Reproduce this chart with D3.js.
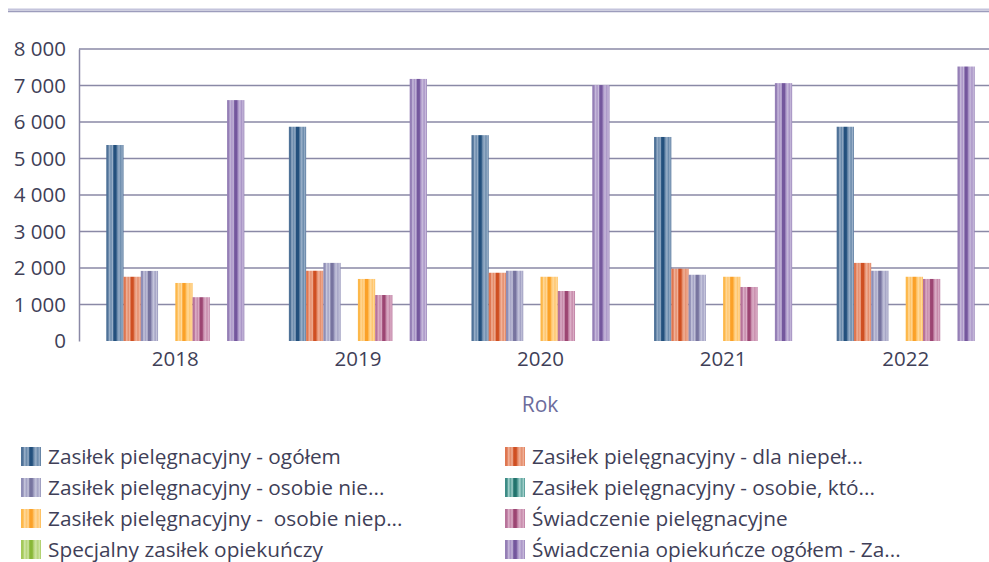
<!DOCTYPE html>
<html>
<head>
<meta charset="utf-8">
<script src="https://cdn.jsdelivr.net/npm/d3@7"></script>
<style>
  html, body { margin: 0; padding: 0; background: #ffffff; }
  svg { display: block; }
  text { font-family: "Open Sans", "Noto Sans", sans-serif; }
</style>
</head>
<body>
<svg id="chart" width="989" height="562"></svg>
<script>
// Years on the category axis
const years = ["2018", "2019", "2020", "2021", "2022"];

// Series values per year (number of recipients)
const zasilekOgolem      = [5370, 5870, 5640, 5590, 5870];
const zasilekDlaNiepel   = [1760, 1925, 1870, 1980, 2140];
const zasilekOsobieNie   = [1920, 2140, 1925, 1815, 1925];
const zasilekOsobieKto   = [0, 0, 0, 0, 0];
const zasilekOsobieNiep  = [1590, 1700, 1760, 1760, 1760];
const swiadczeniePiel    = [1200, 1260, 1370, 1480, 1700];
const specjalnyZasilek   = [0, 0, 0, 0, 0];
const swiadczeniaOpiek   = [6600, 7180, 7010, 7065, 7520];

// Series names as shown in the legend
const seriesNames = [
  "Zasiłek pielęgnacyjny - ogółem",
  "Zasiłek pielęgnacyjny - dla niepeł...",
  "Zasiłek pielęgnacyjny - osobie nie...",
  "Zasiłek pielęgnacyjny - osobie, któ...",
  "Zasiłek pielęgnacyjny -  osobie niep...",
  "Świadczenie pielęgnacyjne",
  "Specjalny zasiłek opiekuńczy",
  "Świadczenia opiekuńcze ogółem - Za..."
];
const seriesValues = [
  zasilekOgolem, zasilekDlaNiepel, zasilekOsobieNie, zasilekOsobieKto,
  zasilekOsobieNiep, swiadczeniePiel, specjalnyZasilek, swiadczeniaOpiek
];

// Y axis ticks
const yTicks = [0, 1000, 2000, 3000, 4000, 5000, 6000, 7000, 8000];

// Striped fills: [edge, light, mid, dark]
const palette = [
  ["#4f7298", "#9ab0c9", "#6a8aab", "#23507d"],
  ["#df7650", "#f0b29a", "#e48c6a", "#cf4f22"],
  ["#8f8eb6", "#c6c6dc", "#a3a2c4", "#77749f"],
  ["#3d8c86", "#a6d3ce", "#5fa39d", "#22736d"],
  ["#fdb84a", "#ffd99c", "#ffc56b", "#fba128"],
  ["#b8739a", "#dcb0c8", "#c68aaa", "#9c4572"],
  ["#a4c95a", "#d0e6a6", "#b6d479", "#88b737"],
  ["#957fb6", "#c7badb", "#a994c6", "#74579d"]
];

const svg = d3.select("#chart");
const defs = svg.append("defs");

palette.forEach((c, i) => {
  const g = defs.append("linearGradient")
    .attr("id", "stripe" + i)
    .attr("x1", 0).attr("x2", 1).attr("y1", 0).attr("y2", 0);
  const stops = [
    [0.00, c[0]], [0.10, c[0]], [0.18, c[1]], [0.28, c[2]],
    [0.36, c[1]], [0.44, c[3]], [0.56, c[3]], [0.64, c[2]],
    [0.74, c[1]], [0.84, c[2]], [0.92, c[1]], [1.00, c[0]]
  ];
  stops.forEach(s => g.append("stop").attr("offset", s[0]).attr("stop-color", s[1]));
});

// Decorative rule at the top
svg.append("line")
  .attr("x1", 8).attr("x2", 989).attr("y1", 9.5).attr("y2", 9.5)
  .attr("stroke", "#c4c4dc").attr("stroke-width", 2);
svg.append("line")
  .attr("x1", 8).attr("x2", 989).attr("y1", 11.5).attr("y2", 11.5)
  .attr("stroke", "#9c9cbc").attr("stroke-width", 1.5);

// Scales
const plotLeft = 79, plotRight = 989;
const y = d3.scaleLinear().domain([0, 8000]).range([341, 49]);
const x0 = d3.scaleBand().domain(years).range([84, 997]).padding(0);
const x1 = d3.scaleBand().domain(d3.range(seriesNames.length))
  .range([0, x0.bandwidth()]).paddingInner(0).paddingOuter(1.29);

const fmt = d3.formatLocale({ decimal: ",", thousands: " ", grouping: [3], currency: ["", ""] }).format(",d");

// Grid lines
svg.append("g").selectAll("line")
  .data(yTicks.filter(d => d > 0))
  .join("line")
  .attr("x1", plotLeft).attr("x2", plotRight)
  .attr("y1", d => y(d)).attr("y2", d => y(d))
  .attr("stroke", "#8a89a6").attr("stroke-width", 1.5);

// Y axis
const yAxis = svg.append("g")
  .attr("transform", `translate(${plotLeft},0)`)
  .call(d3.axisLeft(y).tickValues(yTicks).tickFormat(fmt).tickSize(0).tickPadding(13));
yAxis.select(".domain").attr("stroke", "#8a89a6").attr("stroke-width", 1.5);
yAxis.selectAll("text")
  .attr("fill", "#3f3f58").style("font-size", "20.5px");

// Bars
const groups = svg.append("g").selectAll("g")
  .data(years)
  .join("g")
  .attr("transform", d => `translate(${x0(d)},0)`);

groups.selectAll("rect")
  .data((d, yi) => seriesValues.map((vals, si) => ({ si, v: vals[yi] })))
  .join("rect")
  .attr("x", d => x1(d.si))
  .attr("width", x1.bandwidth())
  .attr("y", d => y(d.v))
  .attr("height", d => y(0) - y(d.v))
  .attr("fill", d => `url(#stripe${d.si})`);

// X axis labels
const xAxis = svg.append("g")
  .attr("transform", `translate(0,341)`)
  .call(d3.axisBottom(x0).tickSize(0).tickPadding(10));
xAxis.select(".domain").remove();
xAxis.selectAll("text")
  .attr("fill", "#3f3f58").style("font-size", "20.5px");

// Axis title
svg.append("text")
  .attr("x", 540).attr("y", 412)
  .attr("text-anchor", "middle")
  .attr("fill", "#6c6c9c")
  .style("font-size", "21px")
  .text("Rok");

// Legend in two columns
const legendCols = [21, 505];
const legendRows = [456.5, 487.5, 518.5, 549.5];
const legend = svg.append("g").selectAll("g")
  .data(seriesNames)
  .join("g")
  .attr("transform", (d, i) => `translate(${legendCols[i % 2]},${legendRows[Math.floor(i / 2)]})`);

legend.append("rect")
  .attr("x", 0).attr("y", -9.5)
  .attr("width", 20).attr("height", 19)
  .attr("fill", (d, i) => `url(#stripe${i})`);

legend.append("text")
  .attr("x", 27).attr("y", 0)
  .attr("dy", "0.35em")
  .attr("fill", "#3f3f58")
  .style("font-size", "20.8px")
  .style("white-space", "pre")
  .text(d => d);
</script>
</body>
</html>
